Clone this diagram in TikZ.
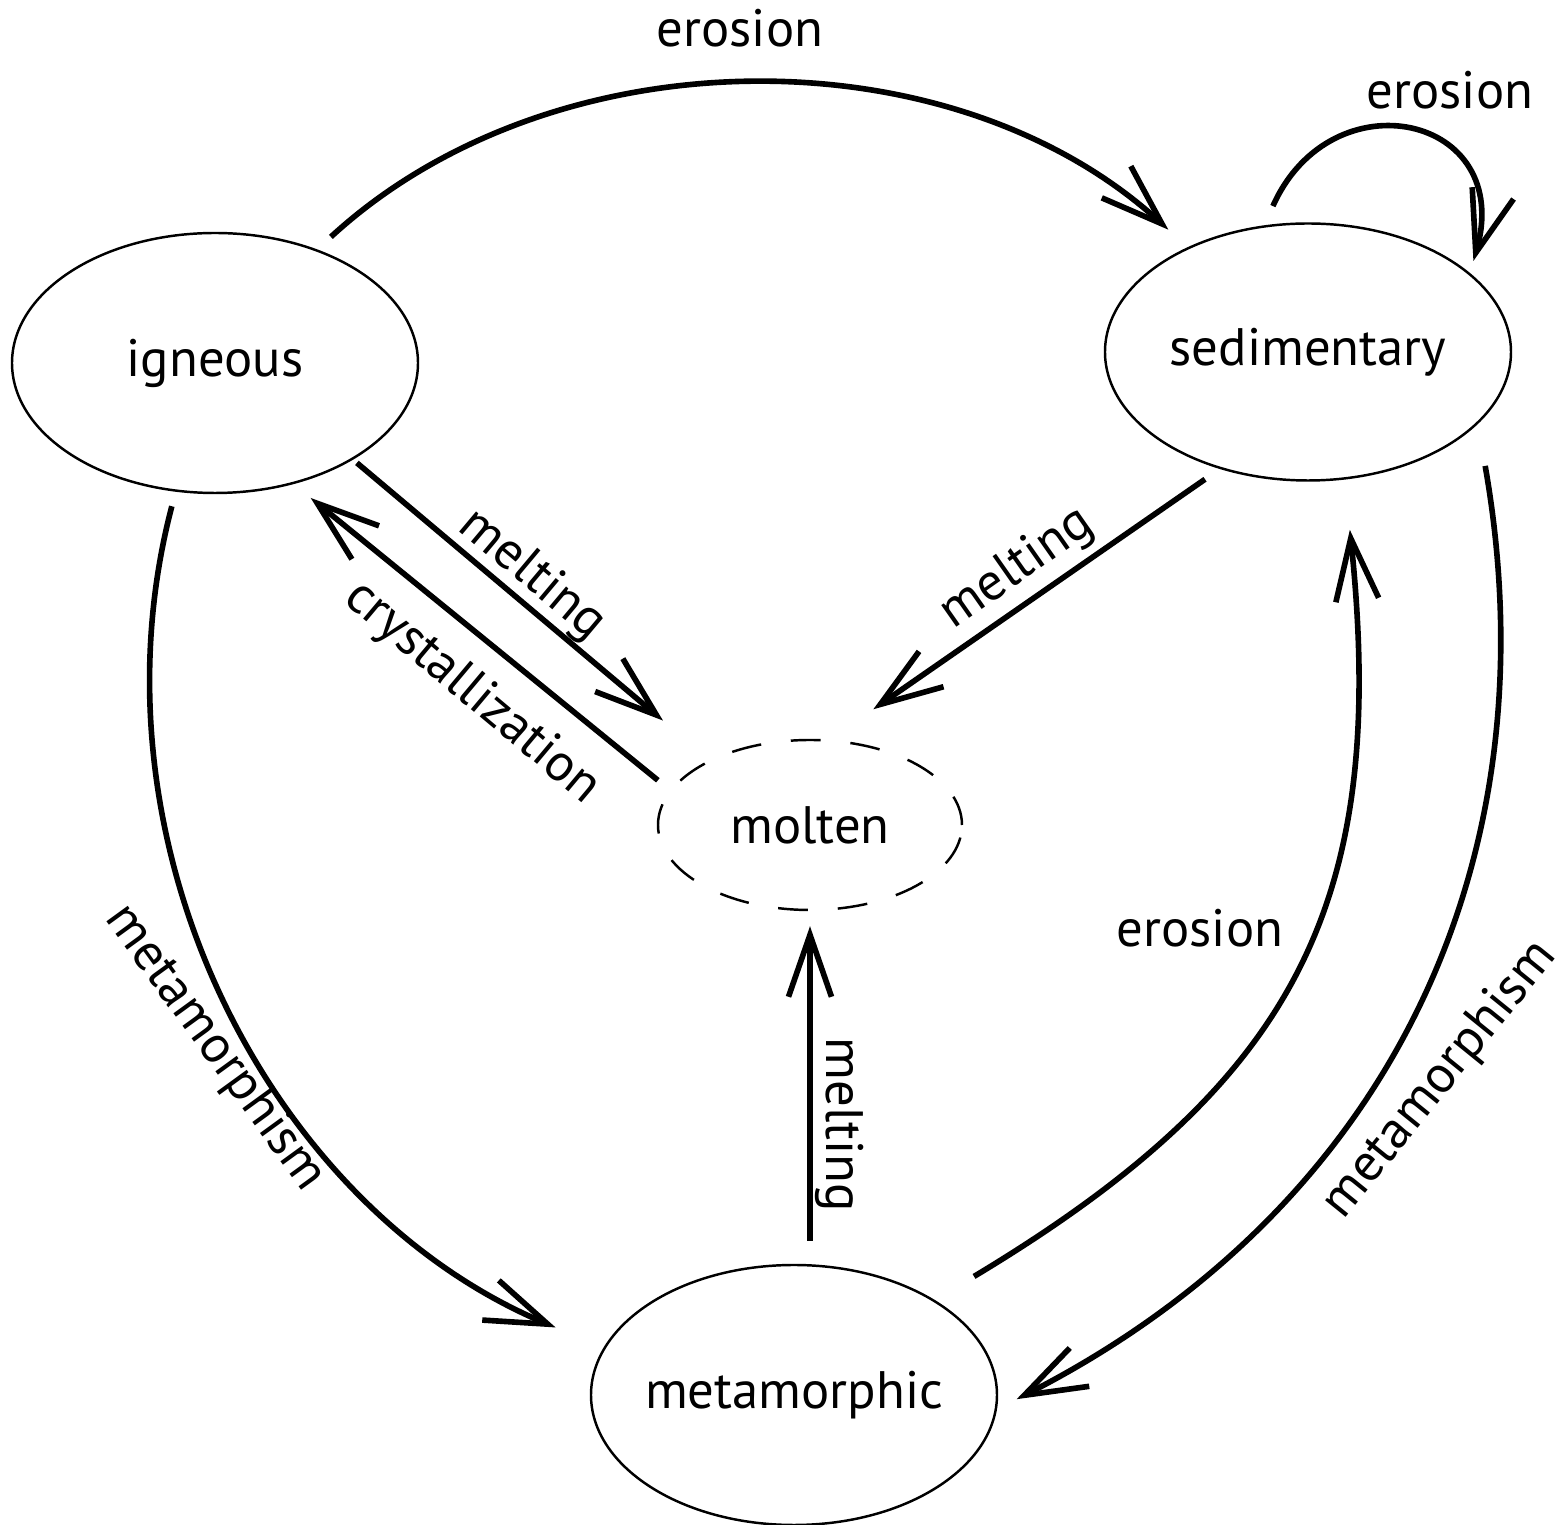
\documentclass[tikz,border=0pt]{standalone}
\usepackage{fontspec}
\setmainfont{PT Sans}
\usetikzlibrary{arrows.meta,shapes.geometric}

\begin{document}
\begin{tikzpicture}[
  rock/.style={draw, ellipse, line width=0.7pt, inner sep=0pt, minimum width=4.06cm, minimum height=2.6cm},
  flow/.style={line width=1.6pt, -{Straight Barb[sharp, length=6.2mm, width=4.3mm]}},
  lbl/.style={inner sep=0pt},
  font=\fontsize{15}{18}\selectfont
]
\useasboundingbox (0,0) rectangle (15.66,-15.25);

% the four rock states
\node[rock] (igneous) at (2.15,-3.63) {igneous};
\node[rock, minimum height=2.57cm] (sedimentary) at (13.08,-3.52) {sedimentary};
\node[rock, dashed, dash pattern=on 8.5pt off 8.5pt, minimum width=3.04cm, minimum height=1.7cm] (molten) at (8.10,-8.25) {molten};
\node[rock, inner xsep=-0.6mm] (metamorphic) at (7.94,-13.95) {metamorphic};

% labels
\node[lbl] (erosionTop) at (7.40,-0.28) {erosion};
\node[lbl] (erosionLoop) at (14.50,-0.90) {erosion};
\node[lbl, rotate=-40] (meltIgn) at (5.32,-5.75) {melting};
\node[lbl, rotate=-40] (crystal) at (4.72,-6.93) {crystallization};
\node[lbl, rotate=35] (meltSed) at (10.17,-5.69) {melting};
\node[lbl, rotate=-90] (meltMet) at (8.40,-11.25) {melting};
\node[lbl, rotate=-54] (metaLeft) at (2.15,-10.48) {metamorphism};
\node[lbl] (erosionLow) at (12.00,-9.28) {erosion};
\node[lbl, rotate=51] (metaRight) at (14.40,-10.80) {metamorphism};

% transitions
\draw[flow, shorten <=1.85mm, shorten >=2.6mm] (igneous.48) to[out=42.6, in=137.5, looseness=0.94] (sedimentary.139.5);
\draw[flow, shorten <=2.1mm, shorten >=1.25mm] (sedimentary.109.2) to[out=66, in=74, looseness=2.0] (sedimentary.26.8);
\draw[flow, shorten <=0.5mm, shorten >=6.1mm] (igneous.-35.4) -- (molten.147.5);
\draw[flow, shorten <=1.55mm, shorten >=2.2mm] (molten.166.7) -- (igneous.-57);
\draw[flow, shorten <=1.8mm, shorten >=5.3mm] (sedimentary.-127.3) -- (molten.77.7);
\draw[flow, shorten <=2.3mm, shorten >=1.5mm] (metamorphic.north -| molten.south) -- (molten.south);
\draw[flow, shorten <=1.5mm, shorten >=5.2mm] (igneous.-107) to[out=-104.7, in=157.3, looseness=0.97] (metamorphic.166.7);
\draw[flow, shorten <=4.57mm, shorten >=5.05mm] (metamorphic.34.9) to[out=31, in=-84, looseness=1.18] (sedimentary.-74);
\draw[flow, shorten <=4.25mm, shorten >=2.2mm] (sedimentary.-23.7) to[out=-80, in=27, looseness=1.03] (metamorphic.-4.9);
\end{tikzpicture}
\end{document}
